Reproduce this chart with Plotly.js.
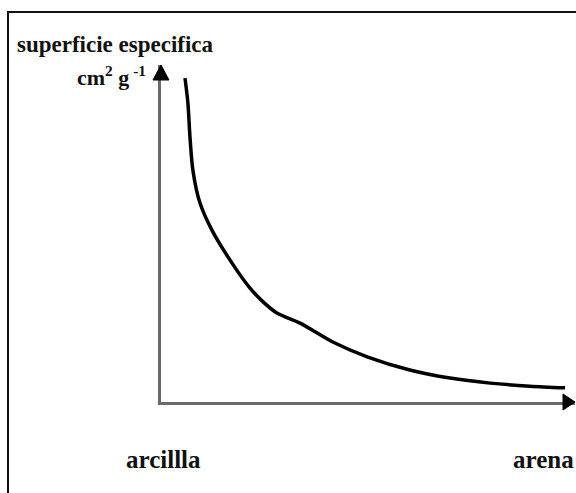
<!DOCTYPE html>
<html>
<head>
<meta charset="utf-8">
<script src="https://cdn.plot.ly/plotly-3.0.1.min.js"></script>
<style>html,body{margin:0;padding:0;background:#fff;}#chart{width:576px;height:493px;}</style>
</head>
<body>
<div id="chart"></div>
<script>
// Conceptual curve: specific surface vs particle size (relative units 0-100)
const tamano = [5.8, 6.5, 7.0, 7.7, 9.4, 12.3, 17.6, 21.5, 24.4, 28.0, 33.6, 41.5, 49.8, 60.1, 69.8, 79.5, 89.1, 97.6];
const superficie = [96.1, 88.7, 78.6, 68.8, 59.1, 51.0, 40.4, 33.8, 30.0, 26.4, 23.4, 17.8, 13.4, 9.5, 7.1, 5.6, 4.7, 4.2];
const yTitle = "superficie especifica";
const yUnits = "cm<sup>2</sup> g<sup> -1</sup>";
const xLabels = ["arcillla", "arena"];

const W = 576, H = 493;
const M = {l: 161, r: 1, t: 65, b: 91};
const PW = W - M.l - M.r, PH = H - M.t - M.b;
const px = v => (v - M.l) / PW;          // pixel x -> paper
const py = v => (H - M.b - v) / PH;      // pixel y -> paper
const font = {family: "Liberation Serif, Times New Roman, serif", color: "#111", size: 25};

const trace = {
  x: tamano, y: superficie, type: "scatter", mode: "lines",
  line: {color: "#000", width: 3.5, shape: "spline", smoothing: 0.8},
  hoverinfo: "skip", showlegend: false
};

const layout = {
  width: W, height: H,
  margin: M,
  paper_bgcolor: "#fff", plot_bgcolor: "#fff",
  xaxis: {range: [0, 100], showgrid: false, zeroline: false, showticklabels: false, ticks: "",
          showline: true, linecolor: "#6a6a6a", linewidth: 3},
  yaxis: {range: [0, 100], showgrid: false, zeroline: false, showticklabels: false, ticks: "",
          showline: true, linecolor: "#6a6a6a", linewidth: 3},
  shapes: [
    {type: "rect", xref: "paper", yref: "paper", x0: px(8), x1: px(640), y0: py(560), y1: py(12),
     line: {color: "#111", width: 2}, fillcolor: "rgba(0,0,0,0)"},
    {type: "path", xref: "paper", yref: "paper", xsizemode: "pixel", ysizemode: "pixel",
     xanchor: 0, yanchor: 1, path: "M -8,-15 L 8,-15 L 0,0 Z", fillcolor: "#000", line: {color: "#000", width: 1}},
    {type: "path", xref: "paper", yref: "paper", xsizemode: "pixel", ysizemode: "pixel",
     xanchor: 1, yanchor: 0, path: "M -12,8 L -12,-8 L 0,0 Z", fillcolor: "#000", line: {color: "#000", width: 1}}
  ],
  annotations: [
    {text: "<b>" + yTitle + "</b>", xref: "paper", yref: "paper", x: px(15), y: py(45),
     xanchor: "left", yanchor: "middle", showarrow: false, font: Object.assign({}, font, {size: 23})},
    {text: "<b>" + yUnits + "</b>", xref: "paper", yref: "paper", x: px(148), y: py(76),
     xanchor: "right", yanchor: "middle", showarrow: false, font: Object.assign({}, font, {size: 22})},
    {text: "<b>" + xLabels[0] + "</b>", xref: "paper", yref: "paper", x: px(124), y: py(459),
     xanchor: "left", yanchor: "middle", showarrow: false, font: font},
    {text: "<b>" + xLabels[1] + "</b>", xref: "paper", yref: "paper", x: px(576), y: py(459),
     xanchor: "right", yanchor: "middle", showarrow: false, font: font}
  ]
};

Plotly.newPlot("chart", [trace], layout, {staticPlot: true, displayModeBar: false});
</script>
</body>
</html>
